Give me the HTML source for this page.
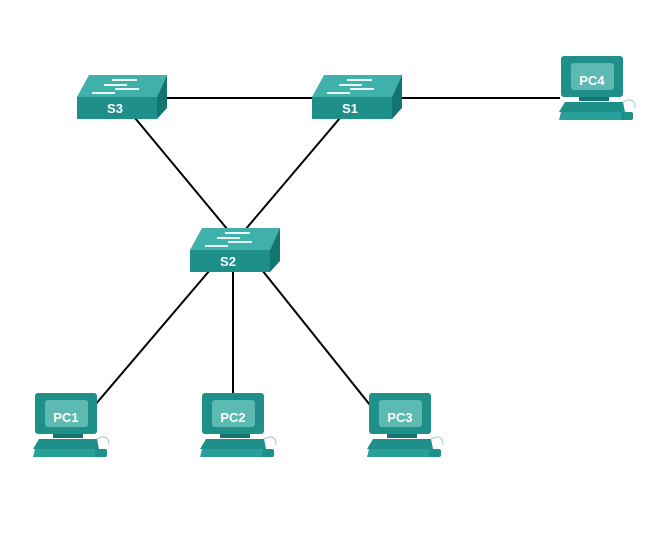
<!DOCTYPE html>
<html><head><style>html,body{margin:0;padding:0;background:#fff}svg{display:block}</style></head>
<body>
<svg width="653" height="556" viewBox="0 0 653 556" xmlns="http://www.w3.org/2000/svg" font-family="Liberation Sans, sans-serif">
<defs>
<g id="sw">
  <polygon points="0,22 80,22 90,0 12,0" fill="#3fb0aa"/>
  <polygon points="80,22 90,0 90,33 80,44" fill="#137470"/>
  <rect x="0" y="22" width="80" height="22" fill="#1f8f8a"/>
  <g stroke="#e8f6f5" stroke-width="2">
    <line x1="35" y1="5" x2="60" y2="5"/><line x1="27" y1="10" x2="50" y2="10"/>
    <line x1="38" y1="14" x2="62" y2="14"/><line x1="15" y1="18" x2="38" y2="18"/>
  </g>
</g>
<g id="pc">
  <rect x="2" y="2" width="62" height="41" rx="3" fill="#1f8f8a"/>
  <rect x="12" y="9" width="43" height="27" rx="3" fill="#5cbab3"/>
  <rect x="20" y="43" width="30" height="4" fill="#137470"/>
  <polygon points="6,48 64,48 66,58 0,58" fill="#1f8f8a"/>
  <polygon points="2,58 66,58 70,66 0,66" fill="#2aa09a"/>
  <rect x="62" y="58" width="12" height="8" rx="2" fill="#1f8f8a"/>
  <path d="M64,48 q12,-6 12,6" stroke="#9bcfcc" fill="none"/>
</g>
</defs>
<g stroke="#000" stroke-width="2">
  <line x1="165" y1="98" x2="315" y2="98"/>
  <line x1="400" y1="98" x2="560" y2="98"/>
  <line x1="135" y1="118" x2="228" y2="230"/>
  <line x1="340" y1="118" x2="245" y2="230"/>
  <line x1="210" y1="270" x2="95" y2="405"/>
  <line x1="233" y1="270" x2="233" y2="395"/>
  <line x1="262" y1="270" x2="370" y2="405"/>
</g>
<use href="#sw" x="77" y="75"/>
<use href="#sw" x="312" y="75"/>
<use href="#sw" x="190" y="228"/>
<g fill="#fff" font-weight="bold" font-size="13" text-anchor="middle">
  <text x="115" y="113">S3</text><text x="350" y="113">S1</text><text x="228" y="266">S2</text>
</g>
<use href="#pc" x="33" y="391"/>
<use href="#pc" x="200" y="391"/>
<use href="#pc" x="367" y="391"/>
<use href="#pc" x="559" y="54"/>
<g fill="#fff" font-weight="bold" font-size="13" text-anchor="middle">
  <text x="66" y="422">PC1</text><text x="233" y="422">PC2</text><text x="400" y="422">PC3</text><text x="592" y="85">PC4</text>
</g>
</svg>
</body></html>
